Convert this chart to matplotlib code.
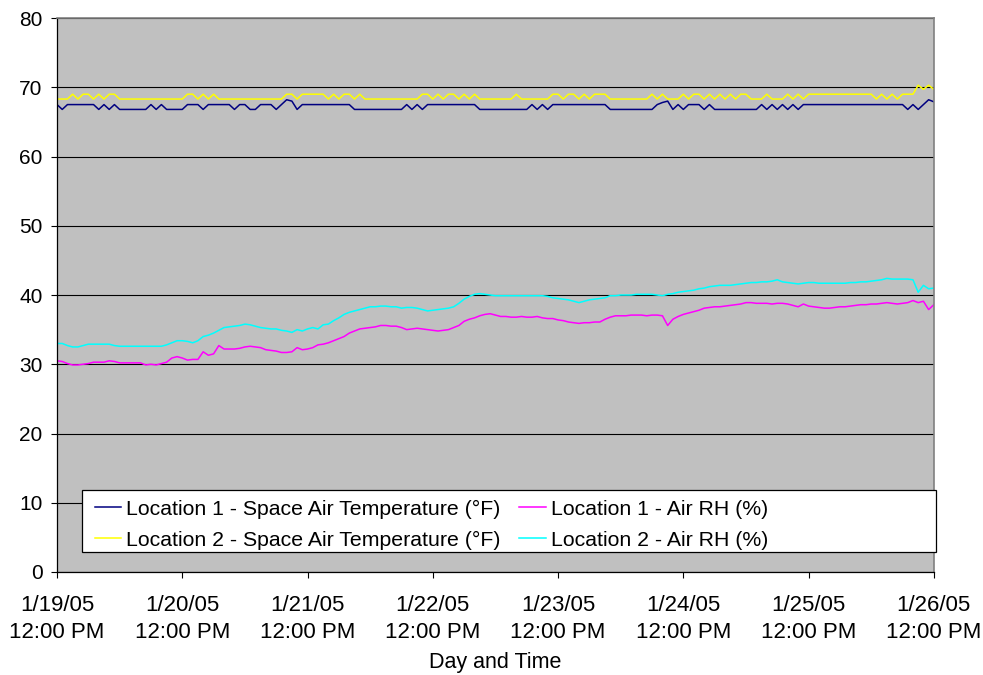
import numpy as np
import pandas as pd
import matplotlib
matplotlib.use("Agg")
import matplotlib.pyplot as plt
from matplotlib.lines import Line2D
from matplotlib.patches import Rectangle

plt.rcParams['font.family'] = ['Liberation Sans', 'DejaVu Sans']
plt.rcParams['font.size'] = 15.5

# hourly readings, 1/19/05 12:00 PM -> 1/26/05 12:00 PM (169 samples)
start = "2005-01-19 12:00"
n_hours = 169

# Location 1 - Space Air Temperature (F)
temp_loc1 = [
    67.5, 66.8, 67.5, 67.5, 67.5, 67.5, 67.5, 67.5, 66.8, 67.5, 66.8, 67.5,
    66.8, 66.8, 66.8, 66.8, 66.8, 66.8, 67.5, 66.8, 67.5, 66.8, 66.8, 66.8,
    66.8, 67.5, 67.5, 67.5, 66.8, 67.5, 67.5, 67.5, 67.5, 67.5, 66.8, 67.5,
    67.5, 66.8, 66.8, 67.5, 67.5, 67.5, 66.8, 67.5, 68.2, 68.0, 66.8, 67.5,
    67.5, 67.5, 67.5, 67.5, 67.5, 67.5, 67.5, 67.5, 67.5, 66.8, 66.8, 66.8,
    66.8, 66.8, 66.8, 66.8, 66.8, 66.8, 66.8, 67.5, 66.8, 67.5, 66.8, 67.5,
    67.5, 67.5, 67.5, 67.5, 67.5, 67.5, 67.5, 67.5, 67.5, 66.8, 66.8, 66.8,
    66.8, 66.8, 66.8, 66.8, 66.8, 66.8, 66.8, 67.5, 66.8, 67.5, 66.8, 67.5,
    67.5, 67.5, 67.5, 67.5, 67.5, 67.5, 67.5, 67.5, 67.5, 67.5, 66.8, 66.8,
    66.8, 66.8, 66.8, 66.8, 66.8, 66.8, 66.8, 67.5, 67.8, 68.0, 66.8, 67.5,
    66.8, 67.5, 67.5, 67.5, 66.8, 67.5, 66.8, 66.8, 66.8, 66.8, 66.8, 66.8,
    66.8, 66.8, 66.8, 67.5, 66.8, 67.5, 66.8, 67.5, 66.8, 67.5, 66.8, 67.5,
    67.5, 67.5, 67.5, 67.5, 67.5, 67.5, 67.5, 67.5, 67.5, 67.5, 67.5, 67.5,
    67.5, 67.5, 67.5, 67.5, 67.5, 67.5, 67.5, 66.8, 67.5, 66.8, 67.5, 68.2,
    67.9,
]

# Location 2 - Space Air Temperature (F)
temp_loc2 = [
    68.3, 68.3, 68.3, 69.0, 68.3, 69.0, 69.0, 68.3, 69.0, 68.3, 69.0, 69.0,
    68.3, 68.3, 68.3, 68.3, 68.3, 68.3, 68.3, 68.3, 68.3, 68.3, 68.3, 68.3,
    68.3, 69.0, 69.0, 68.3, 69.0, 68.3, 69.0, 68.3, 68.3, 68.3, 68.3, 68.3,
    68.3, 68.3, 68.3, 68.3, 68.3, 68.3, 68.3, 68.3, 69.0, 69.0, 68.3, 69.0,
    69.0, 69.0, 69.0, 69.0, 68.3, 69.0, 68.3, 69.0, 69.0, 68.3, 69.0, 68.3,
    68.3, 68.3, 68.3, 68.3, 68.3, 68.3, 68.3, 68.3, 68.3, 68.3, 69.0, 69.0,
    68.3, 69.0, 68.3, 69.0, 69.0, 68.3, 69.0, 68.3, 69.0, 68.3, 68.3, 68.3,
    68.3, 68.3, 68.3, 68.3, 69.0, 68.3, 68.3, 68.3, 68.3, 68.3, 68.3, 69.0,
    69.0, 68.3, 69.0, 69.0, 68.3, 69.0, 68.3, 69.0, 69.0, 69.0, 68.3, 68.3,
    68.3, 68.3, 68.3, 68.3, 68.3, 68.3, 69.0, 68.3, 69.0, 68.3, 68.3, 68.3,
    69.0, 68.3, 69.0, 69.0, 68.3, 69.0, 68.3, 69.0, 68.3, 69.0, 68.3, 69.0,
    69.0, 68.3, 68.3, 68.3, 69.0, 68.3, 68.3, 68.3, 69.0, 68.3, 69.0, 68.3,
    69.0, 69.0, 69.0, 69.0, 69.0, 69.0, 69.0, 69.0, 69.0, 69.0, 69.0, 69.0,
    69.0, 68.3, 69.0, 68.3, 69.0, 68.3, 69.0, 69.0, 69.0, 70.3, 69.7, 70.3,
    69.7,
]

# Location 1 - Air RH (%)
rh_loc1 = [
    30.5, 30.4, 30.1, 29.9, 29.9, 30.0, 30.1, 30.3, 30.3, 30.3, 30.5, 30.4,
    30.2, 30.2, 30.2, 30.2, 30.2, 29.9, 30.0, 29.9, 30.1, 30.3, 30.9, 31.1,
    30.9, 30.6, 30.7, 30.7, 31.8, 31.3, 31.5, 32.7, 32.2, 32.2, 32.2, 32.3,
    32.5, 32.6, 32.5, 32.4, 32.1, 32.0, 31.9, 31.7, 31.7, 31.8, 32.4, 32.1,
    32.2, 32.4, 32.8, 32.9, 33.1, 33.4, 33.7, 34.0, 34.5, 34.8, 35.1, 35.2,
    35.3, 35.4, 35.6, 35.6, 35.5, 35.5, 35.3, 35.0, 35.1, 35.2, 35.1, 35.0,
    34.9, 34.8, 34.9, 35.0, 35.3, 35.6, 36.2, 36.5, 36.7, 37.0, 37.2, 37.3,
    37.1, 36.9, 36.9, 36.8, 36.8, 36.9, 36.8, 36.8, 36.9, 36.7, 36.6, 36.6,
    36.4, 36.3, 36.1, 36.0, 35.9, 36.0, 36.0, 36.1, 36.1, 36.5, 36.8, 37.0,
    37.0, 37.0, 37.1, 37.1, 37.1, 37.0, 37.1, 37.1, 37.0, 35.6, 36.5, 36.9,
    37.2, 37.4, 37.6, 37.8, 38.1, 38.2, 38.3, 38.3, 38.4, 38.5, 38.6, 38.7,
    38.9, 38.9, 38.8, 38.8, 38.8, 38.7, 38.8, 38.8, 38.7, 38.5, 38.3, 38.7,
    38.4, 38.3, 38.2, 38.1, 38.1, 38.2, 38.3, 38.3, 38.4, 38.5, 38.6, 38.6,
    38.7, 38.7, 38.8, 38.9, 38.8, 38.7, 38.8, 38.9, 39.2, 38.9, 39.1, 37.9,
    38.6,
]

# Location 2 - Air RH (%)
rh_loc2 = [
    33.0, 33.0, 32.7, 32.5, 32.5, 32.7, 32.9, 32.9, 32.9, 32.9, 32.9, 32.7,
    32.6, 32.6, 32.6, 32.6, 32.6, 32.6, 32.6, 32.6, 32.6, 32.8, 33.1, 33.4,
    33.4, 33.3, 33.1, 33.4, 34.0, 34.2, 34.5, 34.9, 35.3, 35.4, 35.5, 35.6,
    35.8, 35.7, 35.5, 35.3, 35.2, 35.1, 35.1, 34.9, 34.8, 34.6, 35.0, 34.8,
    35.1, 35.3, 35.1, 35.7, 35.8, 36.3, 36.7, 37.2, 37.5, 37.7, 37.9, 38.1,
    38.3, 38.3, 38.4, 38.4, 38.3, 38.3, 38.1, 38.2, 38.2, 38.1, 37.9, 37.7,
    37.8, 37.9, 38.0, 38.1, 38.3, 38.8, 39.4, 39.8, 40.1, 40.2, 40.1, 40.0,
    39.9, 39.9, 39.9, 39.9, 39.9, 39.9, 39.9, 39.9, 39.9, 39.9, 39.8, 39.6,
    39.5, 39.4, 39.3, 39.1, 38.9, 39.1, 39.3, 39.4, 39.5, 39.6, 39.9, 39.9,
    40.0, 40.0, 40.0, 40.1, 40.1, 40.1, 40.1, 40.0, 39.9, 40.1, 40.2, 40.4,
    40.5, 40.6, 40.7, 40.9, 41.0, 41.2, 41.3, 41.4, 41.4, 41.4, 41.5, 41.6,
    41.7, 41.8, 41.8, 41.9, 41.9, 42.0, 42.2, 41.9, 41.8, 41.7, 41.6, 41.7,
    41.8, 41.8, 41.7, 41.7, 41.7, 41.7, 41.7, 41.7, 41.8, 41.8, 41.9, 41.9,
    42.0, 42.1, 42.2, 42.4, 42.3, 42.3, 42.3, 42.3, 42.2, 40.4, 41.4, 40.9,
    41.0,
]

labels = [
    "Location 1 - Space Air Temperature (°F)",
    "Location 2 - Space Air Temperature (°F)",
    "Location 1 - Air RH (%)",
    "Location 2 - Air RH (%)",
]
colors = ["#000080", "#FFFF00", "#FF00FF", "#00FFFF"]

times = pd.date_range(start, periods=n_hours, freq="h")
series = [temp_loc1, temp_loc2, rh_loc1, rh_loc2]

fig = plt.figure(figsize=(9.83, 6.75), dpi=100)
ax = fig.add_axes([0.058, 0.1526, 0.892, 0.8207])
ax.set_facecolor("#C0C0C0")

# excel-style draw order: temp1, rh1, temp2, rh2
for i in [0, 2, 1, 3]:
    ax.plot(times, series[i], color=colors[i], lw=1.1, zorder=2)

ax.set_ylim(0, 80)
ax.set_yticks(np.arange(0, 81, 10))
ax.set_xlim(times[0], times[-1])
day_ticks = pd.date_range(start, periods=8, freq="D")
ax.set_xticks(day_ticks)
ax.set_xticklabels([f"{d.month}/{d.day}/{d:%y}\n12:00 PM" for d in day_ticks],
                   fontsize=16, linespacing=1.35)

ax.grid(axis="y", color="black", lw=0.8)
ax.set_axisbelow(True)
ax.tick_params(axis="y", direction="out", length=4.5, width=0.8, pad=6,
               labelsize=15)
ax.tick_params(axis="x", direction="out", length=4.5, width=0.8, pad=12)
for s in ["left", "bottom"]:
    ax.spines[s].set_color("black")
    ax.spines[s].set_linewidth(0.9)
for s in ["top", "right"]:
    ax.spines[s].set_color("#808080")
    ax.spines[s].set_linewidth(1.2)

ax.set_xlabel("Day and Time", fontsize=15.5, labelpad=7)

# legend box
box = Rectangle((82 / 983, 1 - 552 / 675), (936 - 82) / 983, 62 / 675,
                transform=fig.transFigure, facecolor="white", edgecolor="black",
                lw=0.9, zorder=4, clip_on=False)
fig.patches.append(box)

handles = [Line2D([], [], color=c, lw=1.1) for c in colors]
fig.legend(handles, labels, ncol=2, loc="upper left",
           bbox_to_anchor=(84 / 983, 1 - 489 / 675), frameon=False,
           borderpad=0, handlelength=1.25, handletextpad=0.22,
           columnspacing=0.9, labelspacing=0.56, fontsize=15.3)

fig.savefig("out.png", dpi=100)
